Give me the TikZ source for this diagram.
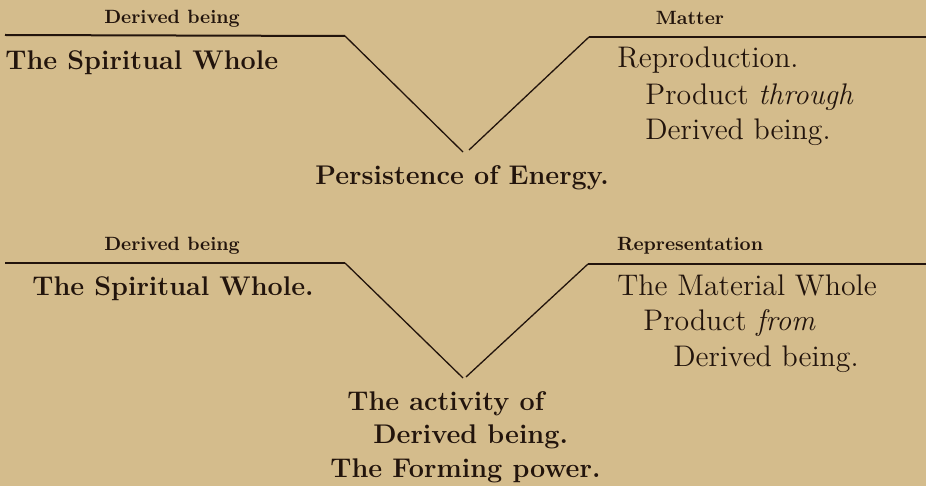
\documentclass[tikz,border=0pt]{standalone}
\usepackage{xcolor}
\usepackage{tikz}
\usetikzlibrary{positioning}

\definecolor{paper}{RGB}{212,188,140}
\definecolor{ink}{RGB}{34,20,12}

\begin{document}
\begin{tikzpicture}[
    x=0.5pt, y=-0.5pt,
    heading/.style={
        anchor=base, inner sep=0pt, text=ink,
        font=\fontsize{9.6}{11}\selectfont\bfseries
    },
    term/.style={
        anchor=base west, inner sep=0pt, text=ink,
        font=\fontsize{13.5}{16}\selectfont\bfseries
    },
    gloss/.style={
        anchor=base west, inner sep=0pt, text=ink,
        font=\fontsize{14.9}{18}\selectfont
    },
    rule/.style={draw=ink, line width=1pt},
    wedge/.style={draw=ink, line width=0.65pt}
]

% 0. Page
\fill[paper] (0,0) rectangle (926,486);
\useasboundingbox (0,0) rectangle (926,486);

% 1. Upper figure
\node[heading] (upDerived) at (172,24) {Derived being};
\node[heading] (upMatter) at (690,25) {Matter};

\coordinate (upLeftEnd) at (5,35);
\coordinate (upLeftCorner) at (345,36);
\coordinate (upLeftTip) at (463,152);
\coordinate (upRightEnd) at (926,37);
\coordinate (upRightCorner) at (589,37);
\coordinate (upRightTip) at (469,150);

\draw[rule] (upLeftEnd) -- (upLeftCorner);
\draw[wedge] (upLeftCorner) -- (upLeftTip);
\draw[rule] (upRightEnd) -- (upRightCorner);
\draw[wedge] (upRightCorner) -- (upRightTip);

\node[term] (upSpirit) at (5,70) {The Spiritual Whole};
\node[gloss] (upRepro) at (617,68) {Reproduction.};
\node[gloss] (upProduct) at (645,105) {Product \textit{through}};
\node[gloss] (upBeing) at (645,140) {Derived being.};
\node[term] (upEnergy) at (315,185) {Persistence of Energy.};

% 2. Lower figure
\node[heading] (loDerived) at (172,251) {Derived being};
\node[heading] (loRepr) at (690,251) {Representation};

\coordinate (loLeftEnd) at (5,263);
\coordinate (loLeftCorner) at (345,263);
\coordinate (loLeftTip) at (463,378);
\coordinate (loRightEnd) at (926,264);
\coordinate (loRightCorner) at (588,264);
\coordinate (loRightTip) at (466,377);

\draw[rule] (loLeftEnd) -- (loLeftCorner);
\draw[wedge] (loLeftCorner) -- (loLeftTip);
\draw[rule] (loRightEnd) -- (loRightCorner);
\draw[wedge] (loRightCorner) -- (loRightTip);

\node[term] (loSpirit) at (32,295) {The Spiritual Whole.};
\node[gloss] (loMaterial) at (617,295) {The Material Whole};
\node[gloss] (loProduct) at (643,330) {Product \textit{from}};
\node[gloss] (loBeing) at (673,366) {Derived being.};

\node[term] (loActivity) at (347,410) {The activity of};
\node[term] (loDerivedBeing) at (373,443) {Derived being.};
\node[term] (loForming) at (330,477) {The Forming power.};

\end{tikzpicture}
\end{document}
